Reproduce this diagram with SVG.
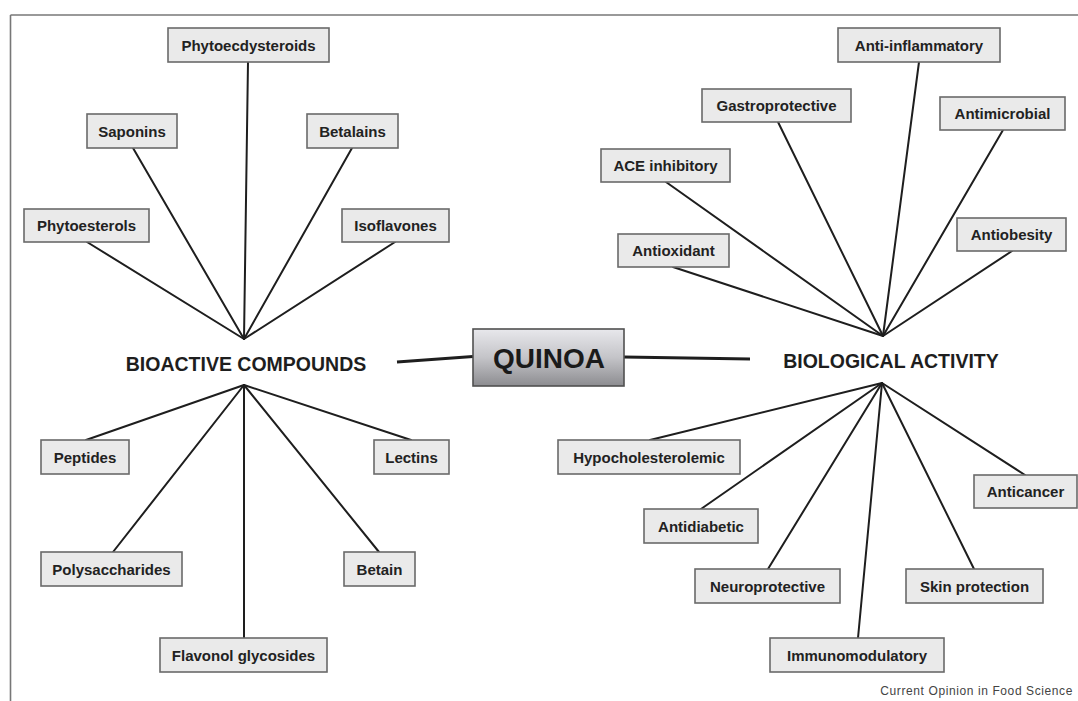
<svg xmlns="http://www.w3.org/2000/svg" width="1078" height="701" viewBox="0 0 1078 701">
<defs>
<linearGradient id="qg" x1="0" y1="0" x2="0" y2="1">
<stop offset="0" stop-color="#e8e8ec"/>
<stop offset="0.5" stop-color="#c4c4c8"/>
<stop offset="1" stop-color="#8c8c90"/>
</linearGradient>
<style>
.box{fill:#eaeaea;stroke:#6a6a6a;stroke-width:1.6}
.lbl{font-family:"Liberation Sans",Arial,sans-serif;font-weight:bold;font-size:15px;fill:#222;text-anchor:middle}
.hd{font-family:"Liberation Sans",Arial,sans-serif;font-weight:bold;font-size:19.5px;fill:#1e1e1e;text-anchor:middle}
.ln{stroke:#1e1e1e;stroke-width:2;fill:none;stroke-linecap:round}
.thick{stroke:#1e1e1e;stroke-width:3;fill:none}
</style>
</defs>
<rect x="0" y="0" width="1078" height="701" fill="#ffffff"/>
<g id="frame">
<line x1="10.5" y1="15" x2="1078" y2="15" stroke="#777" stroke-width="1.6"/>
<line x1="10.5" y1="15" x2="10.5" y2="701" stroke="#777" stroke-width="1.6"/>
</g>
<g id="connectors">
<line class="thick" x1="397" y1="362" x2="473" y2="356.5"/>
<line class="thick" x1="624" y1="357" x2="750" y2="359"/>
<line class="ln" x1="248" y1="62" x2="244" y2="339"/>
<line class="ln" x1="133" y1="148" x2="244" y2="339"/>
<line class="ln" x1="87" y1="242" x2="244" y2="339"/>
<line class="ln" x1="352" y1="148" x2="244" y2="339"/>
<line class="ln" x1="395" y1="242" x2="244" y2="339"/>
<line class="ln" x1="86" y1="440" x2="244" y2="385"/>
<line class="ln" x1="113" y1="552" x2="244" y2="385"/>
<line class="ln" x1="244" y1="638" x2="244" y2="385"/>
<line class="ln" x1="379" y1="552" x2="244" y2="385"/>
<line class="ln" x1="411" y1="440" x2="244" y2="385"/>
<line class="ln" x1="919" y1="62" x2="883" y2="336"/>
<line class="ln" x1="778" y1="122" x2="883" y2="336"/>
<line class="ln" x1="1003" y1="130" x2="883" y2="336"/>
<line class="ln" x1="666" y1="182" x2="883" y2="336"/>
<line class="ln" x1="1012" y1="251" x2="883" y2="336"/>
<line class="ln" x1="673" y1="267" x2="883" y2="336"/>
<line class="ln" x1="650" y1="440" x2="882" y2="383"/>
<line class="ln" x1="701" y1="509" x2="882" y2="383"/>
<line class="ln" x1="768" y1="569" x2="882" y2="383"/>
<line class="ln" x1="858" y1="638" x2="882" y2="383"/>
<line class="ln" x1="974" y1="569" x2="882" y2="383"/>
<line class="ln" x1="1025" y1="475" x2="882" y2="383"/>
</g>
<g id="quinoa">
<rect x="473" y="329" width="151" height="57" fill="url(#qg)" stroke="#505050" stroke-width="1.6"/>
<text x="549" y="368" font-family="'Liberation Sans',Arial,sans-serif" font-weight="bold" font-size="28" fill="#1a1a1a" text-anchor="middle">QUINOA</text>
</g>
<g id="bioactive-compounds"><text class="hd" x="246" y="371">BIOACTIVE COMPOUNDS</text></g>
<g id="biological-activity"><text class="hd" x="891" y="368">BIOLOGICAL ACTIVITY</text></g>
<g id="phytoecdysteroids"><rect class="box" x="168" y="28" width="161" height="34"/><text class="lbl" x="248.5" y="50.5">Phytoecdysteroids</text></g>
<g id="saponins"><rect class="box" x="87" y="114" width="90" height="34"/><text class="lbl" x="132" y="136.5">Saponins</text></g>
<g id="betalains"><rect class="box" x="307" y="114" width="91" height="34"/><text class="lbl" x="352.5" y="136.5">Betalains</text></g>
<g id="phytoesterols"><rect class="box" x="24" y="209" width="125" height="33"/><text class="lbl" x="86.5" y="231">Phytoesterols</text></g>
<g id="isoflavones"><rect class="box" x="342" y="209" width="107" height="33"/><text class="lbl" x="395.5" y="231">Isoflavones</text></g>
<g id="peptides"><rect class="box" x="41" y="440" width="88" height="34"/><text class="lbl" x="85" y="462.5">Peptides</text></g>
<g id="lectins"><rect class="box" x="374" y="440" width="75" height="34"/><text class="lbl" x="411.5" y="462.5">Lectins</text></g>
<g id="polysaccharides"><rect class="box" x="41" y="552" width="141" height="34"/><text class="lbl" x="111.5" y="574.5">Polysaccharides</text></g>
<g id="betain"><rect class="box" x="344" y="552" width="71" height="34"/><text class="lbl" x="379.5" y="574.5">Betain</text></g>
<g id="flavonol-glycosides"><rect class="box" x="160" y="638" width="167" height="34"/><text class="lbl" x="243.5" y="660.5">Flavonol glycosides</text></g>
<g id="anti-inflammatory"><rect class="box" x="838" y="28" width="162" height="34"/><text class="lbl" x="919" y="50.5">Anti-inflammatory</text></g>
<g id="gastroprotective"><rect class="box" x="702" y="89" width="149" height="33"/><text class="lbl" x="776.5" y="111">Gastroprotective</text></g>
<g id="antimicrobial"><rect class="box" x="940" y="97" width="125" height="33"/><text class="lbl" x="1002.5" y="119">Antimicrobial</text></g>
<g id="ace-inhibitory"><rect class="box" x="601" y="149" width="129" height="33"/><text class="lbl" x="665.5" y="171">ACE inhibitory</text></g>
<g id="antiobesity"><rect class="box" x="957" y="218" width="109" height="33"/><text class="lbl" x="1011.5" y="240">Antiobesity</text></g>
<g id="antioxidant"><rect class="box" x="618" y="234" width="111" height="33"/><text class="lbl" x="673.5" y="256">Antioxidant</text></g>
<g id="hypocholesterolemic"><rect class="box" x="558" y="440" width="182" height="34"/><text class="lbl" x="649" y="462.5">Hypocholesterolemic</text></g>
<g id="anticancer"><rect class="box" x="974" y="475" width="103" height="33"/><text class="lbl" x="1025.5" y="497">Anticancer</text></g>
<g id="antidiabetic"><rect class="box" x="644" y="509" width="114" height="34"/><text class="lbl" x="701" y="531.5">Antidiabetic</text></g>
<g id="neuroprotective"><rect class="box" x="695" y="569" width="145" height="34"/><text class="lbl" x="767.5" y="591.5">Neuroprotective</text></g>
<g id="skin-protection"><rect class="box" x="906" y="569" width="137" height="34"/><text class="lbl" x="974.5" y="591.5">Skin protection</text></g>
<g id="immunomodulatory"><rect class="box" x="770" y="638" width="174" height="34"/><text class="lbl" x="857" y="660.5">Immunomodulatory</text></g>
<g id="caption"><text x="1073" y="695" font-family="'Liberation Sans',Arial,sans-serif" font-size="12" letter-spacing="0.6" fill="#444" text-anchor="end">Current Opinion in Food Science</text></g>
</svg>
